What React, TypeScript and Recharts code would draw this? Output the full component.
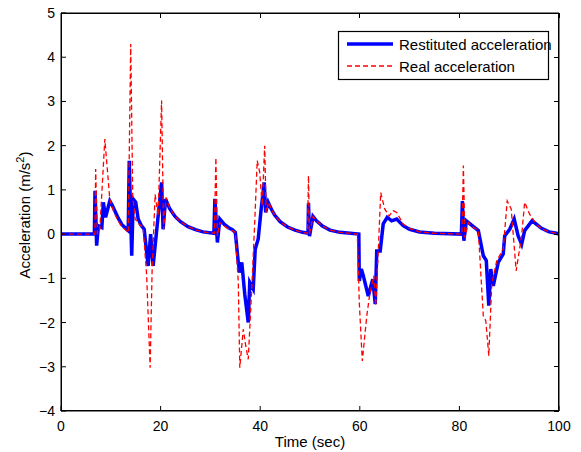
import React from 'react';
import { LineChart, Line, XAxis, YAxis, Legend, CartesianGrid } from 'recharts';

// values (time in sec, acceleration in m/s^2)
const restTime = [
  0, 6.7, 6.83, 7.16, 7.5, 8.2, 8.5, 8.95, 9.8, 10.3, 10.8, 11.5, 12.2, 13.0, 13.5, 13.7, 14.2, 14.5, 15.0, 15.5, 16.1, 16.7,
  17.5, 18.0, 18.5, 19.1, 20.2, 20.5, 21.0, 21.8, 22.9, 24, 25.5, 27, 28.5, 30.7,
  30.9, 31.4, 31.9, 32.8, 33.6, 34.4, 35.0, 35.6, 35.9, 36.3, 36.9, 37.6, 37.9, 38.6, 39.0, 39.6, 40.2, 40.8,
  41.1, 41.6, 42.3, 42.9, 44, 45.5, 47, 48.5, 49.6,
  49.7, 49.9, 50.6, 51.3, 52.5, 54, 56, 59.8,
  59.9, 60.3, 60.7, 61.7, 62.6, 63.1, 63.4, 64.1, 64.7, 65.5, 66.4, 67.4, 68.7, 70, 72, 75, 80.4,
  80.6, 80.9, 81.4, 82.5, 83.8, 84.8, 85.4, 85.9, 86.3, 86.8, 87.8, 88.8, 89.1, 90.1, 91.0, 91.8, 92.5,
  93.1, 94.6, 95.5, 96.5, 98, 99.5, 100,
];
const restAccel = [
  0, 0, 0.98, -0.26, 0.19, 0.15, 0.72, 0.38, 0.75, 0.65, 0.53, 0.36, 0.22, 0.13, 0.08, 1.66, -0.49, 0.79, 0.72, 0.34, 0.2, 0.11,
  -0.72, 0, -0.72, -0.04, 1.17, 0.11, 0.79, 0.58, 0.4, 0.28, 0.17, 0.1, 0.05, 0.02,
  0.8, -0.19, 0.34, 0.22, 0.15, 0.1, 0.04, -0.64, -0.87, -0.64, -1.36, -2.0, -1.09, -1.24, -0.34, -0.11, 0.57, 1.17,
  0.49, 0.72, 0.55, 0.43, 0.28, 0.16, 0.09, 0.04, 0.02,
  0.7, -0.05, 0.4, 0.3, 0.18, 0.09, 0.04, 0,
  -1.06, -0.79, -0.94, -1.4, -1.02, -1.58, -0.38, -0.38, 0.23, 0.38, 0.3, 0.34, 0.19, 0.11, 0.05, 0.02, 0,
  0.75, -0.15, 0.3, 0.2, 0.08, -0.49, -0.6, -1.62, -0.79, -1.17, -0.64, -0.45, -0.04, 0.11, 0.34, -0.04, -0.23,
  0.08, 0.3, 0.22, 0.13, 0.05, 0.02, 0,
];

const realTime = [
  0, 6.8, 6.96, 7.3, 7.8, 8.8, 9.8, 10.3, 10.8, 11.5, 12.2, 13.0, 13.5, 14.0, 14.4, 14.9, 15.7, 16.5, 17.2, 17.9, 18.3, 18.9,
  19.5, 20.2, 20.6, 21.1, 21.8, 22.9, 24, 25.5, 27, 28.5, 30.8,
  31.1, 31.4, 31.9, 32.8, 33.6, 34.4, 35.0, 35.6, 35.9, 36.6, 37.1, 37.6, 38.3, 38.9, 39.4, 39.9, 40.4, 40.9,
  41.2, 41.7, 42.3, 42.9, 44, 45.5, 47, 48.5, 49.5,
  49.7, 49.9, 50.6, 51.3, 52.5, 54, 56, 59.5,
  59.9, 60.5, 61.4, 62.0, 62.8, 63.2, 63.7, 64.2, 65.0, 65.9, 66.7, 67.4, 68.7, 70, 72, 75, 80.5,
  80.8, 81.1, 81.8, 82.5, 83.8, 84.8, 85.3, 85.9, 86.5, 87.5, 88.8, 89.6, 90.4, 91.4, 92.5, 93.1, 94.1,
  95.5, 96.5, 98, 99.5, 100,
];
const realAccel = [
  0, 0, 1.47, 0, 0.11, 2.15, 0.79, 0.6, 0.45, 0.3, 0.17, 0.09, 0.04, 4.3, 0.87, 0.34, 0.22, 0.15, -0.94, -3.02, -0.79, 0.9,
  0.41, 3.02, 0.11, 0.83, 0.6, 0.4, 0.28, 0.17, 0.1, 0.05, 0.02,
  1.73, -0.04, 0.26, 0.18, 0.12, 0.08, 0.04, -1.09, -3.02, -2.15, -2.53, -2.83, -1.24, 0.26, 1.66, 1.4, 0.64, 2.0,
  0.49, 0.72, 0.55, 0.43, 0.28, 0.16, 0.09, 0.04, 0.02,
  1.32, 0, 0.4, 0.3, 0.18, 0.09, 0.04, 0,
  -1.55, -2.87, -1.85, -1.36, -0.94, -1.62, -0.41, 0.94, 0.57, 0.41, 0.53, 0.49, 0.23, 0.13, 0.05, 0.02, 0,
  1.55, -0.08, 0.26, 0.18, 0.08, -1.85, -1.96, -2.75, -1.13, -0.6, -0.34, 0.75, 0.57, -0.83, -0.04, 0.72, 0.45,
  0.22, 0.12, 0.05, 0.02, 0,
];

const xTicks = [0, 20, 40, 60, 80, 100];
const yTicks = [-4, -3, -2, -1, 0, 1, 2, 3, 4, 5];

const restData = restTime.map((t, i) => ({ t, v: restAccel[i] }));
const realData = realTime.map((t, i) => ({ t, v: realAccel[i] }));

const font = '"Liberation Sans", Arial, Helvetica, sans-serif';
const fmtY = (v: number) => (v < 0 ? '\u2212' + Math.abs(v) : String(v));

// plot box (matlab style frame, ticks pointing inward on all four sides)
const box = { left: 61, top: 13, width: 498, height: 398 };

function Frame() {
  const xPos = (t: number) => box.left + (t / 100) * box.width;
  const yPos = (v: number) => box.top + ((5 - v) / 9) * box.height;
  const right = box.left + box.width;
  const bottom = box.top + box.height;
  return (
    <svg
      width={581}
      height={452}
      shapeRendering="crispEdges"
      style={{ position: 'absolute', left: 0, top: 0, zIndex: 5, pointerEvents: 'none' }}
    >
      <path
        d={`M${box.left + 0.5},${box.top + 0.5} H${right - 0.5} V${bottom - 0.5} H${box.left + 0.5} Z`}
        fill="none"
        stroke="#000"
        strokeWidth={1.3}
      />
      {xTicks.map((t) => (
        <line key={'t' + t} x1={xPos(t)} x2={xPos(t)} y1={box.top} y2={box.top + 5} stroke="#000" strokeWidth={1} />
      ))}
      {yTicks.map((v) => (
        <line key={'r' + v} x1={right} x2={right - 5} y1={yPos(v)} y2={yPos(v)} stroke="#000" strokeWidth={1} />
      ))}
    </svg>
  );
}

function LegendBox() {
  return (
    <svg width={211} height={49} style={{ display: 'block', overflow: 'visible' }}>
      <rect x={0.5} y={0.5} width={210} height={48} fill="#fff" stroke="#000" strokeWidth={1.2} />
      <line x1={9} x2={55} y1={13} y2={13} stroke="#0000ff" strokeWidth={3.5} />
      <text x={61} y={19} fontFamily={font} fontSize={15} fill="#000">Restituted acceleration</text>
      <line x1={9} x2={55} y1={35} y2={35} stroke="#ff0000" strokeWidth={1.3} strokeDasharray="5 3" />
      <text x={61} y={41} fontFamily={font} fontSize={15} fill="#000">Real acceleration</text>
    </svg>
  );
}

export default function App() {
  return (
    <div style={{ position: 'absolute', left: 0, top: 0, width: 581, height: 452, background: '#fff' }}>
      <LineChart width={581} height={452} margin={{ top: box.top, right: 581 - box.left - box.width, bottom: 0, left: 0 }}>
        {/* top and right edges of the box */}
        <CartesianGrid horizontalValues={[5]} verticalValues={[100]} stroke="#000" strokeDasharray="" />
        <XAxis
          dataKey="t"
          type="number"
          domain={[0, 100]}
          ticks={xTicks}
          allowDataOverflow
          height={452 - box.top - box.height}
          tickSize={-5}
          tickMargin={15}
          stroke="#000"
          tick={{ fill: '#000', fontSize: 14, fontFamily: font }}
          label={{
            content: () => (
              <text x={310} y={447} textAnchor="middle" fontFamily={font} fontSize={15} fill="#000">Time (sec)</text>
            ),
          }}
        />
        <YAxis
          type="number"
          domain={[-4, 5]}
          ticks={yTicks}
          allowDataOverflow
          width={box.left}
          tickSize={-5}
          tickMargin={11}
          tickFormatter={fmtY}
          stroke="#000"
          tick={{ fill: '#000', fontSize: 14, fontFamily: font }}
          label={{
            content: () => (
              <text x={30} y={215} transform="rotate(-90, 30, 215)" textAnchor="middle" fontFamily={font} fontSize={15} fill="#000">
                Acceleration (m/s<tspan dy={-6} fontSize={11}>2</tspan><tspan dy={6}>)</tspan>
              </text>
            ),
          }}
        />
        <Legend
          layout="vertical"
          align="center"
          verticalAlign="middle"
          wrapperStyle={{ position: 'absolute', left: 338, top: 31, width: 211, height: 49 }}
          content={() => <LegendBox />}
        />
        <Line
          data={restData}
          dataKey="v"
          type="linear"
          stroke="#0000ff"
          strokeWidth={3.5}
          dot={false}
          activeDot={false}
          isAnimationActive={false}
        />
        <Line
          data={realData}
          dataKey="v"
          type="linear"
          stroke="#ff0000"
          strokeWidth={1.3}
          strokeDasharray="5 3"
          dot={false}
          activeDot={false}
          isAnimationActive={false}
        />
      </LineChart>
      <Frame />
    </div>
  );
}
